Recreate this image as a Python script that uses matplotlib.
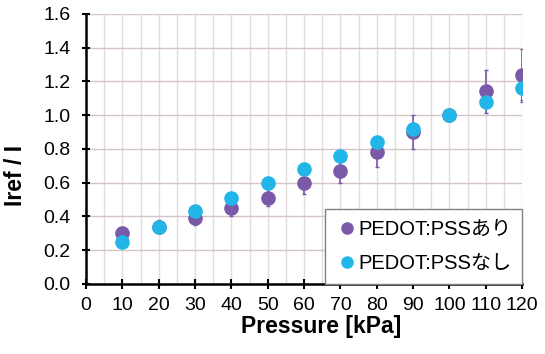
import numpy as np
import matplotlib.pyplot as plt
from matplotlib.ticker import MultipleLocator
from matplotlib.lines import Line2D

plt.rcParams['font.family'] = ['Liberation Sans', 'Noto Sans CJK JP']

pressure = [10, 20, 30, 40, 50, 60, 70, 80, 90, 100, 110, 120]
with_pedot = [0.30, 0.34, 0.39, 0.45, 0.51, 0.60, 0.67, 0.78, 0.90, 1.00, 1.14, 1.24]
with_err = [0.02, 0.04, 0.04, 0.05, 0.05, 0.07, 0.07, 0.09, 0.10, 0.0, 0.13, 0.15]
without_pedot = [0.25, 0.34, 0.43, 0.51, 0.60, 0.68, 0.76, 0.84, 0.92, 1.00, 1.08, 1.16]
without_err = [0.01, 0.02, 0.02, 0.02, 0.02, 0.02, 0.02, 0.02, 0.02, 0.0, 0.02, 0.08]
labels = ['PEDOT:PSSあり', 'PEDOT:PSSなし']

purple = '#7a59a8'
cyan = '#22b6e8'

fig = plt.figure(figsize=(5.45, 3.54), dpi=100)
ax = fig.add_axes([0.158, 0.198, 0.800, 0.763])

ax.errorbar(pressure, with_pedot, yerr=with_err, fmt='o', color=purple, ms=9.5,
            elinewidth=1.2, capsize=1.5, zorder=3)
ax.errorbar(pressure, without_pedot, yerr=without_err, fmt='o', color=cyan, ms=9.5,
            elinewidth=1.2, capsize=1.5, ecolor=purple, zorder=4)

ax.set_xlim(0, 120)
ax.set_ylim(0, 1.6)
ax.xaxis.set_major_locator(MultipleLocator(10))
ax.xaxis.set_minor_locator(MultipleLocator(5))
ax.yaxis.set_major_locator(MultipleLocator(0.2))
ax.yaxis.set_major_formatter(plt.FormatStrFormatter('%.1f'))
ax.grid(True, axis='x', which='both', color='#e2dcdc', linewidth=1.0)
ax.grid(True, axis='y', which='major', color='#d4c6c6', linewidth=1.0)
ax.set_axisbelow(True)

for s in ['top', 'right']:
    ax.spines[s].set_visible(False)
for s in ['left', 'bottom']:
    ax.spines[s].set_linewidth(1.8)
ax.tick_params(axis='x', which='major', direction='inout', length=7, width=1.5, labelsize=14, pad=6)
ax.tick_params(axis='x', which='minor', length=0)
ax.tick_params(axis='y', direction='inout', length=6, width=1.5, labelsize=14, pad=8)

ax.set_xlabel('Pressure [kPa]', fontsize=16.5, fontweight='bold', labelpad=1)
ax.xaxis.label.set_x(0.54)
ax.set_ylabel('Iref / I', fontsize=16.5, fontweight='bold')
ax.yaxis.set_label_coords(-0.135, 0.40)

handles = [Line2D([], [], ls='none', marker='o', ms=8, color=purple),
           Line2D([], [], ls='none', marker='o', ms=8, color=cyan)]
leg = ax.legend(handles, labels, loc='lower right', fontsize=14.5, handletextpad=0.0,
                handlelength=1.1, borderpad=0.55, labelspacing=0.75, fancybox=False,
                framealpha=1, bbox_to_anchor=(1.0, 0.0), borderaxespad=0.0)
leg.get_frame().set_edgecolor('#808080')
leg.get_frame().set_linewidth(1.0)

fig.savefig('out.png', dpi=100)
